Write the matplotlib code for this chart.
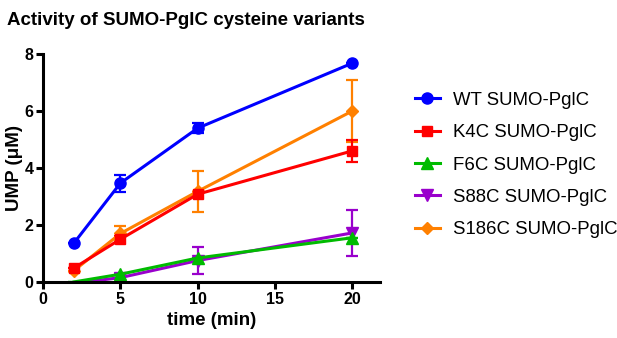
import matplotlib
matplotlib.use("Agg")
import matplotlib.pyplot as plt
from matplotlib.lines import Line2D

plt.rcParams["font.family"] = ["Liberation Sans", "DejaVu Sans"]

time_min = [2, 5, 10, 20]

series_names = ["WT SUMO-PglC", "K4C SUMO-PglC", "F6C SUMO-PglC",
                "S88C SUMO-PglC", "S186C SUMO-PglC"]
wt_mean = [1.37, 3.47, 5.40, 7.68]
wt_err = [0.0, 0.30, 0.17, 0.0]
k4c_mean = [0.49, 1.50, 3.08, 4.60]
k4c_err = [0.0, 0.12, 0.0, 0.38]
f6c_mean = [0.0, 0.27, 0.84, 1.55]
f6c_err = [0.0, 0.0, 0.0, 0.0]
s88c_mean = [-0.05, 0.15, 0.75, 1.72]
s88c_err = [0.0, 0.0, 0.49, 0.80]
s186c_mean = [0.40, 1.70, 3.18, 6.00]
s186c_err = [0.0, 0.28, 0.72, 1.10]

means = [wt_mean, k4c_mean, f6c_mean, s88c_mean, s186c_mean]
errs = [wt_err, k4c_err, f6c_err, s88c_err, s186c_err]
colors = ["#0000FF", "#FF0000", "#00BB00", "#9900CC", "#FF8000"]
markers = ["o", "s", "^", "v", "D"]
msizes = [8, 7, 8, 8, 6]

fig = plt.figure(figsize=(6.17, 3.38), dpi=100)
ax = fig.add_axes([0.070, 0.166, 0.546, 0.674])

# draw in reverse so WT ends on top; points sitting at the baseline get no marker
for i in reversed(range(len(series_names))):
    shown = [k for k, v in enumerate(means[i]) if v > 0.05]
    ax.errorbar(time_min, means[i], yerr=errs[i], color=colors[i],
                marker=markers[i], markersize=msizes[i], markevery=shown,
                linewidth=2.2, elinewidth=1.6, capsize=4, capthick=1.6)

ax.set_xlim(0, 21.8)
ax.set_ylim(0, 8)
ax.set_xticks([0, 5, 10, 15, 20])
ax.set_yticks([0, 2, 4, 6, 8])
for s in ["top", "right"]:
    ax.spines[s].set_visible(False)
for s in ["left", "bottom"]:
    ax.spines[s].set_linewidth(2.2)
ax.tick_params(width=2.2, length=5, labelsize=11.5, direction="out", pad=2)
for lab in ax.get_xticklabels() + ax.get_yticklabels():
    lab.set_fontweight("bold")

ax.set_xlabel("time (min)", fontsize=13.5, fontweight="bold", labelpad=4)
ax.set_ylabel("UMP (\u03bcM)", fontsize=13.5, fontweight="bold")
ax.yaxis.set_label_coords(-0.06, 0.5)

fig.text(0.012, 0.965, "Activity of SUMO-PglC cysteine variants",
         fontsize=13.5, fontweight="bold", va="top", ha="left")

handles = [Line2D([], [], color=c, marker=m, markersize=ms, linewidth=2.2)
           for c, m, ms in zip(colors, markers, msizes)]
fig.legend(handles, series_names, loc="upper left",
           bbox_to_anchor=(0.672, 0.728), frameon=False, fontsize=13.4,
           handlelength=1.35, labelspacing=0.82, handletextpad=0.7,
           borderpad=0, borderaxespad=0)

fig.savefig("out.png", dpi=100)
